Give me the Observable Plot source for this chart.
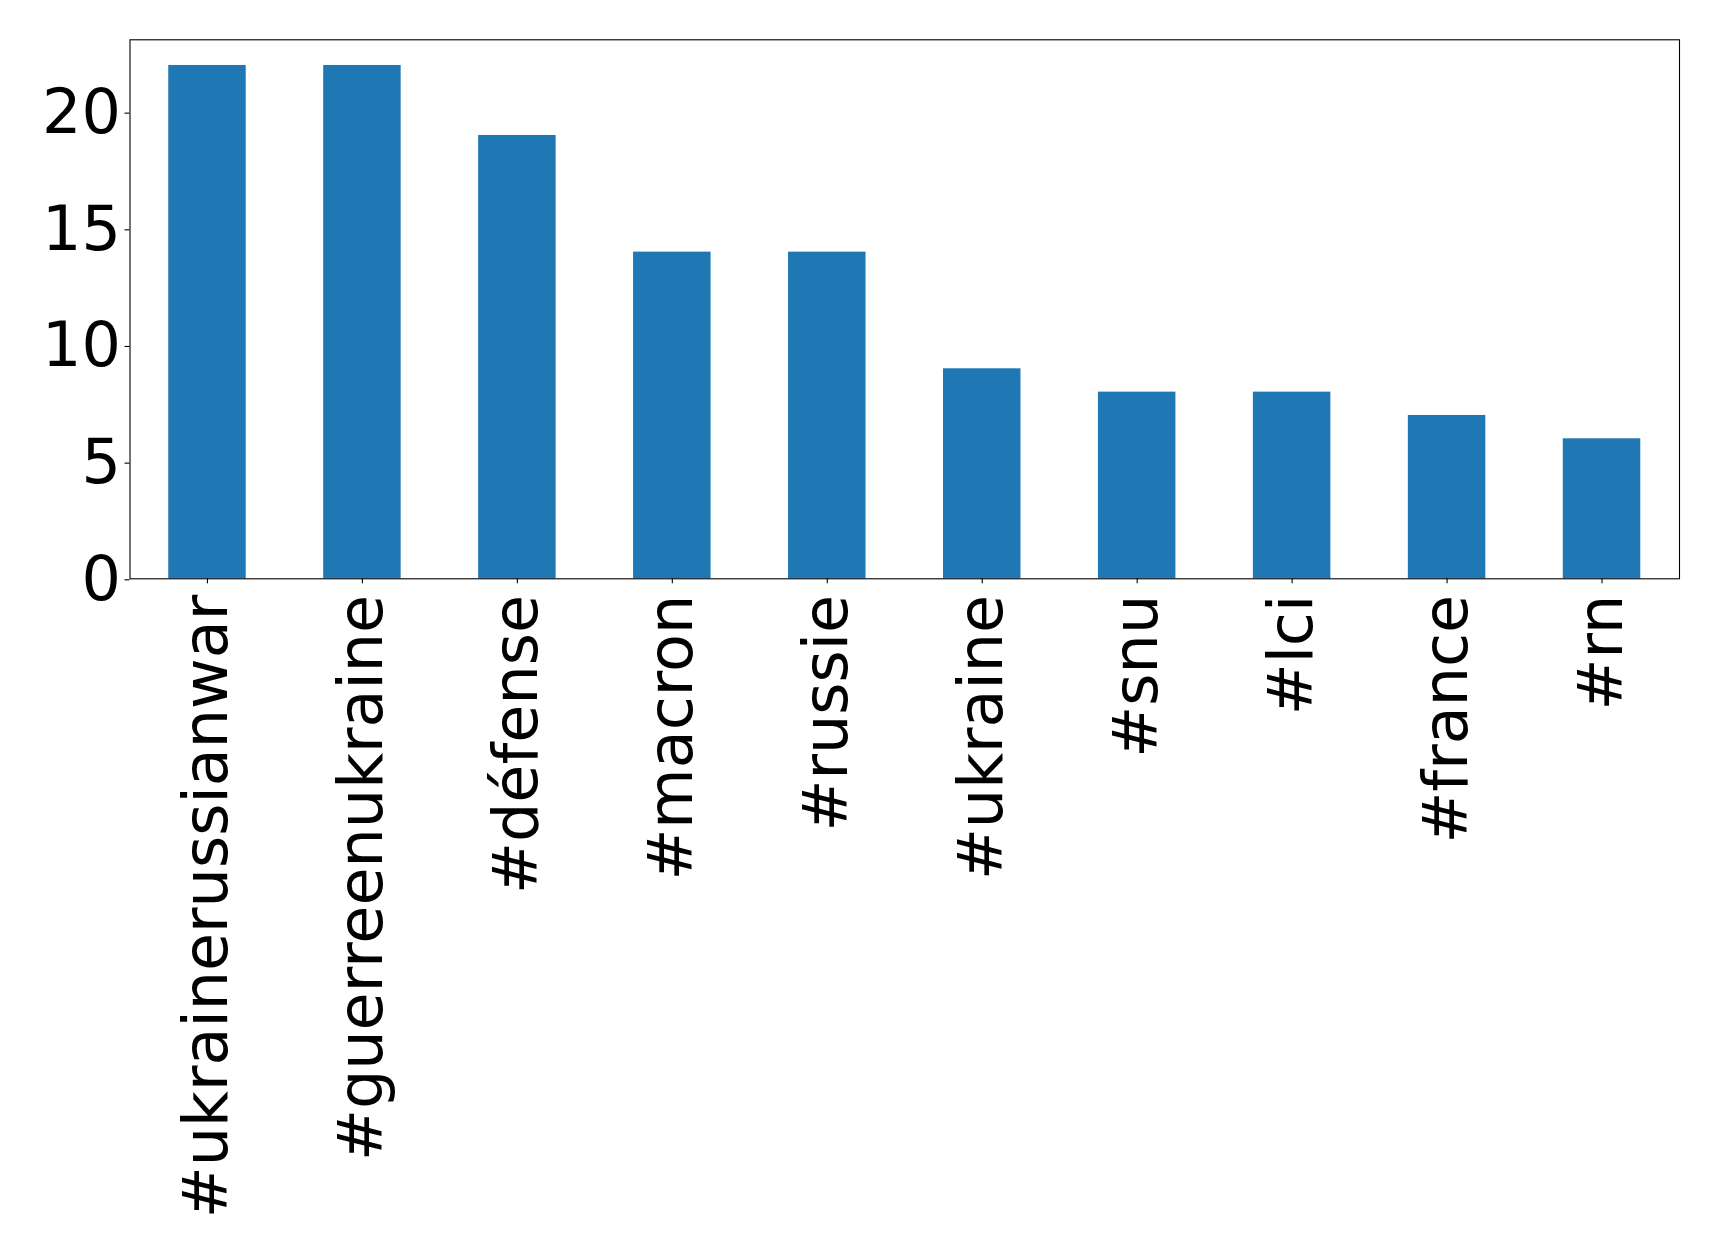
<!DOCTYPE html>
<html><head><meta charset="utf-8">
<script src="https://cdn.jsdelivr.net/npm/d3@7"></script>
<script src="https://cdn.jsdelivr.net/npm/@observablehq/plot@0.6"></script>
<style>body{margin:0;background:#fff}</style>
</head><body><div id="chart"></div>
<script>
const hashtags = ["#ukrainerussianwar","#guerreenukraine","#défense","#macron","#russie","#ukraine","#snu","#lci","#france","#rn"];
const counts = [22,22,19,14,14,9,8,8,7,6];
const yTicks = [0,5,10,15,20];
const data = hashtags.map((tag,i)=>({tag, count: counts[i]}));
const chart = Plot.plot({
  width:1719, height:1256,
  marginLeft:129.5, marginRight:40, marginTop:39.3, marginBottom:677.7,
  style:{fontFamily:"DejaVu Sans", fontSize:"62px", color:"#000", background:"#fff"},
  x:{domain:hashtags, paddingInner:0.5, paddingOuter:0.25, align:0.5, round:false},
  y:{domain:[0,23.1]},
  marks:[
    Plot.barY(data,{x:"tag", y:"count", fill:"#1f77b4"}),
    Plot.frame({stroke:"#000", strokeWidth:1.1}),
    Plot.axisY({ticks:yTicks, tickSize:5, tickPadding:4, fontSize:62, label:null, dy:1, strokeWidth:1.1}),
    Plot.axisX({tickSize:5, tickFormat:()=>"", label:null, strokeWidth:1.1}),
    Plot.text(data,{x:"tag", text:"tag", frameAnchor:"bottom", rotate:-90, textAnchor:"end", lineAnchor:"middle", dy:16, fontSize:62, fill:"#000"})
  ]
});
document.getElementById("chart").append(chart);
</script>
</body></html>
